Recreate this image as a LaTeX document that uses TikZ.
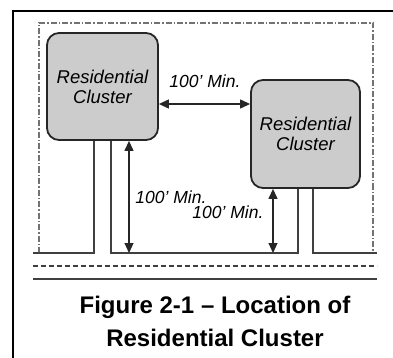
\documentclass[tikz,border=0pt]{standalone}
\usepackage{fontspec}
\setmainfont{Liberation Sans}
\usetikzlibrary{arrows.meta}
\begin{document}
\begin{tikzpicture} [x = 1pt, y = -1pt,
	cluster/.style = {draw = black!85, line width = 1.8pt, fill = black!20, rounded corners = 12pt,
		align = center, inner sep = 0pt, font = \fontsize{18.5}{20}\selectfont\itshape},
	edge/.style = {draw = black!75, line width = 1.1pt},
	dim/.style = {draw = black!85, line width = 1.1pt,
		{Triangle[length = 10pt, width = 9pt]}-{Triangle[length = 10pt, width = 9pt]}},
	dimlabel/.style = {font = \fontsize{17.5}{17.5}\selectfont\itshape}]
	\useasboundingbox (0,0) rectangle (393,358);
	\draw [line width = 1.8pt] (13,358) -- (13,11) -- (393,11);
	% lot line
	\draw [black!55, line width = 1.2pt, dash pattern = on 6pt off 2pt on 1.5pt off 2pt] (39,253) -- (39,23) -- (373,23) -- (373,253);
	\coordinate (rl) at (33,253);
	\coordinate (rr) at (377,253);
	% road and driveways
	\draw [edge] (rl) -- (94,253) -- (94,140);
	\draw [edge] (111,140) -- (111,253) -- (298,253) -- (298,188);
	\draw [edge] (313,188) -- (313,253) -- (rr);
	\draw [edge, dash pattern = on 5pt off 3pt] (33,266) -- (377,266);
	\draw [edge] (33,279) -- (377,279);
	\node [cluster, minimum width = 111pt, minimum height = 107pt] (lc) at (102.5,86.5) {Residential\\Cluster};
	\node [cluster, minimum width = 109pt, minimum height = 108pt] (rc) at (305.5,134) {Residential\\Cluster};
	% setbacks
	\draw [dim] (lc.east |- 0,104) -- (rc.west |- 0,104);
	\draw [dim] (lc.south -| 129,0) -- (rl -| 129,0);
	\draw [dim] (rc.south -| 273,0) -- (rl -| 273,0);
	\node [dimlabel] (top) at (205,81) {100' Min.};
	\node [dimlabel] (lft) at (171,197) {100' Min.};
	\node [dimlabel] (rgt) at (228,212) {100' Min.};
	\node [font = \fontsize{24}{33}\selectfont\bfseries, align = center] (cap) at (215,321) {Figure 2-1 – Location of\\Residential Cluster};
\end{tikzpicture}
\end{document}
